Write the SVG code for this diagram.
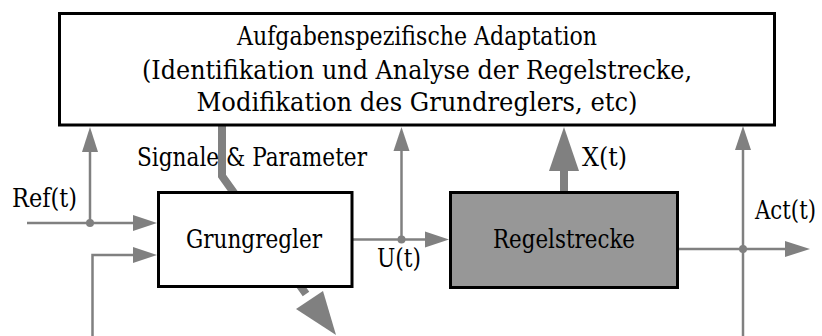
<svg xmlns="http://www.w3.org/2000/svg" width="822" height="336" viewBox="0 0 822 336">
  <style>
    .box { stroke: #000; stroke-width: 3; }
    .wire { fill: none; stroke: #808080; stroke-width: 2.5; }
    .thick { fill: none; stroke: #808080; stroke-width: 8; }
    .head { fill: #808080; stroke: none; }
    .dot { fill: #808080; }
    .t { font-family: "DejaVu Serif", "Liberation Serif", serif; font-size: 26px; fill: #000; }
  </style>

  <!-- Connectors (drawn first so the controller box covers the parameter path) -->
  <g id="connectors">
    <!-- adaptation path through the controller -->
    <polyline class="thick" points="222,126 222,176 306,294"/>
    <polygon class="head" points="296,309 323,291 336,335"/>

    <!-- reference input -->
    <line class="wire" x1="27" y1="223" x2="134" y2="223"/>
    <polygon class="head" points="133,215 157,223 133,231"/>
    <line class="wire" x1="90" y1="223" x2="90" y2="150"/>
    <polygon class="head" points="82,152 90,127 98,152"/>
    <circle class="dot" cx="90" cy="223" r="4"/>

    <!-- feedback into controller -->
    <polyline class="wire" points="92.5,336 92.5,255 134,255"/>
    <polygon class="head" points="133,247 157,255 133,263"/>

    <!-- control signal U(t) -->
    <line class="wire" x1="353" y1="239.5" x2="427" y2="239.5"/>
    <polygon class="head" points="425,231.5 449,239.5 425,247.5"/>
    <line class="wire" x1="401.5" y1="239.5" x2="401.5" y2="148"/>
    <polygon class="head" points="393.5,151 401.5,127 409.5,151"/>
    <circle class="dot" cx="401.5" cy="239.5" r="4"/>

    <!-- plant state X(t) -->
    <line class="thick" x1="564" y1="191" x2="564" y2="168"/>
    <polygon class="head" points="549,171 579,171 564,127"/>

    <!-- output Act(t) -->
    <line class="wire" x1="679" y1="249" x2="787" y2="249"/>
    <polygon class="head" points="785,241 810,249 785,257"/>
    <line class="wire" x1="743" y1="337" x2="743" y2="147"/>
    <polygon class="head" points="735,150 743,126 751,150"/>
    <circle class="dot" cx="743" cy="249" r="4"/>

    <!-- feedback return line, mostly below the lower edge -->
    <line class="wire" x1="288" y1="337.4" x2="743" y2="337.4" stroke-width="3"/>
  </g>

  <!-- Adaptation block -->
  <g id="adaptation">
    <rect class="box" x="59.5" y="13.5" width="715" height="111.5" fill="#fff"/>
    <text class="t" x="417" y="45" text-anchor="middle" textLength="360" lengthAdjust="spacingAndGlyphs">Aufgabenspezifische Adaptation</text>
    <text class="t" x="417" y="79" text-anchor="middle" textLength="550" lengthAdjust="spacingAndGlyphs">(Identifikation und Analyse der Regelstrecke,</text>
    <text class="t" x="417" y="111" text-anchor="middle" textLength="441" lengthAdjust="spacingAndGlyphs">Modifikation des Grundreglers, etc)</text>
  </g>

  <!-- Base controller -->
  <g id="grungregler">
    <rect class="box" x="158.5" y="192.5" width="193.5" height="94" fill="#fff"/>
    <text class="t" x="254" y="248" text-anchor="middle" textLength="136" lengthAdjust="spacingAndGlyphs">Grungregler</text>
  </g>

  <!-- Plant -->
  <g id="regelstrecke">
    <rect class="box" x="450.5" y="192.5" width="227" height="95" fill="#979797"/>
    <text class="t" x="564" y="248" text-anchor="middle" textLength="142" lengthAdjust="spacingAndGlyphs">Regelstrecke</text>
  </g>

  <!-- Signal labels -->
  <g id="labels">
    <text class="t" x="12" y="207" textLength="65" lengthAdjust="spacingAndGlyphs">Ref(t)</text>
    <text class="t" x="137" y="166" textLength="230" lengthAdjust="spacingAndGlyphs">Signale &amp; Parameter</text>
    <text class="t" x="377" y="267" textLength="44" lengthAdjust="spacingAndGlyphs">U(t)</text>
    <text class="t" x="582" y="166" textLength="45" lengthAdjust="spacingAndGlyphs">X(t)</text>
    <text class="t" x="755" y="219" textLength="61" lengthAdjust="spacingAndGlyphs">Act(t)</text>
  </g>
</svg>
